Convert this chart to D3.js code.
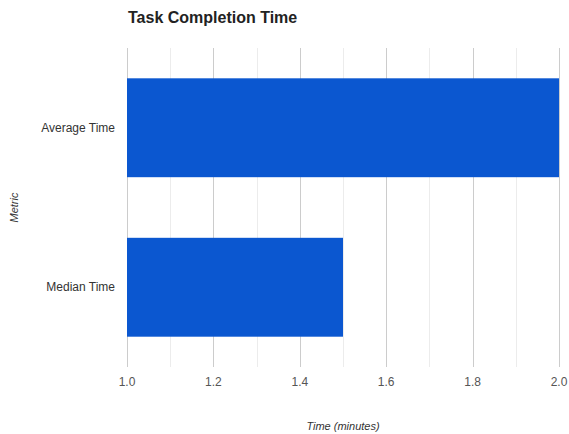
<!DOCTYPE html>
<html>
<head>
<meta charset="utf-8">
<script src="https://cdn.jsdelivr.net/npm/d3@7"></script>
<style>
  body { margin: 0; background: #fff; }
  text { font-family: "Liberation Sans", Arial, sans-serif; }
</style>
</head>
<body>
<div id="chart"></div>
<script>
var categories = ["Average Time", "Median Time"];
var values = [2.0, 1.5];
var xTicks = [1.0, 1.2, 1.4, 1.6, 1.8, 2.0];
var xMinor = [1.1, 1.3, 1.5, 1.7, 1.9];

var width = 569;
var height = 434;
var marginleft = 127;
var marginright = 10;
var margintop = 48;
var marginbottom = 67;

var svg = d3.select("#chart")
    .append("svg")
    .attr("width", width)
    .attr("height", height);

var x = d3.scaleLinear()
    .domain([1.0, 2.0])
    .range([marginleft, width - marginright]);

var y = d3.scaleBand()
    .domain(categories)
    .range([margintop, height - marginbottom])
    .paddingInner(0.38)
    .paddingOuter(0.19);

// gridlines, minor first then major
svg.append("g")
    .selectAll("line")
    .data(xMinor)
    .enter()
    .append("line")
      .attr("x1", function(d){ return Math.round(x(d)) + 0.5; })
      .attr("x2", function(d){ return Math.round(x(d)) + 0.5; })
      .attr("y1", margintop)
      .attr("y2", height - marginbottom)
      .attr("stroke", "#ececec");

svg.append("g")
    .selectAll("line")
    .data(xTicks)
    .enter()
    .append("line")
      .attr("x1", function(d){ return Math.round(x(d)) + 0.5; })
      .attr("x2", function(d){ return Math.round(x(d)) + 0.5; })
      .attr("y1", margintop)
      .attr("y2", height - marginbottom)
      .attr("stroke", "#cccccc");

// bars
svg.append("g")
    .selectAll("rect")
    .data(values)
    .enter()
    .append("rect")
      .attr("x", x(1.0))
      .attr("y", function(d, i){ return y(categories[i]); })
      .attr("width", function(d){ return x(d) - x(1.0); })
      .attr("height", y.bandwidth())
      .attr("fill", "#0b57d0");

// x tick labels
svg.append("g")
    .selectAll("text")
    .data(xTicks)
    .enter()
    .append("text")
      .attr("x", function(d){ return x(d); })
      .attr("y", height - marginbottom + 19)
      .attr("text-anchor", "middle")
      .attr("font-size", 12)
      .attr("fill", "#555")
      .text(function(d){ return d3.format(".1f")(d); });

// y labels
svg.append("g")
    .selectAll("text")
    .data(categories)
    .enter()
    .append("text")
      .attr("x", marginleft - 12)
      .attr("y", function(d){ return y(d) + y.bandwidth() / 2; })
      .attr("dy", "0.35em")
      .attr("text-anchor", "end")
      .attr("font-size", 12)
      .attr("fill", "#333")
      .text(function(d){ return d; });

// title
svg.append("text")
    .attr("x", 128)
    .attr("y", 23)
    .attr("font-size", 16)
    .attr("font-weight", "bold")
    .attr("fill", "#222")
    .text("Task Completion Time");

// axis titles
svg.append("text")
    .attr("x", (x(1.0) + x(2.0)) / 2)
    .attr("y", 430)
    .attr("text-anchor", "middle")
    .attr("font-size", 11)
    .attr("font-style", "italic")
    .attr("fill", "#333")
    .text("Time (minutes)");

svg.append("text")
    .attr("transform", "translate(18," + ((margintop + height - marginbottom) / 2) + ") rotate(-90)")
    .attr("text-anchor", "middle")
    .attr("font-size", 11)
    .attr("font-style", "italic")
    .attr("fill", "#333")
    .text("Metric");
</script>
</body>
</html>
